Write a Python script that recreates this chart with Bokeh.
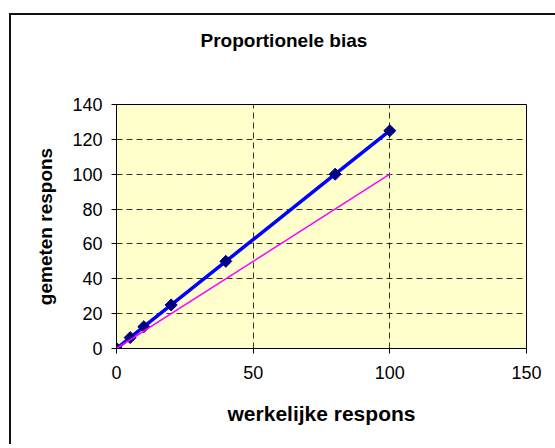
import math
from bokeh.plotting import figure
from bokeh.models import Range1d, FixedTicker, Column, Title
from bokeh.embed import file_html
from bokeh.resources import INLINE

# ---- data ----
actual = [0, 5, 10, 20, 40, 80, 100]          # werkelijke respons
measured = [0, 6.25, 12.5, 25, 50, 100, 125]  # gemeten respons
ideal_x = [0, 100]
ideal_y = [0, 100]
x_ticks = [0, 50, 100, 150]
y_ticks = [0, 20, 40, 60, 80, 100, 120, 140]
title_text = "Proportionele bias"
x_title = "werkelijke respons"
y_title = "gemeten respons"

FONT = "Liberation Sans"

p = figure(
    frame_width=410, frame_height=244,
    min_border_left=105, min_border_top=0,
    min_border_right=29, min_border_bottom=96,
    x_range=Range1d(0, 150), y_range=Range1d(0, 140),
    output_backend="svg", toolbar_location=None,
)

p.background_fill_color = "#FFFFCC"
p.border_fill_color = "white"
p.outline_line_color = "black"
p.outline_line_width = 1

# spacer between title and plot area (same font, so same height as the title)
p.add_layout(Title(text=" ", standoff=15, text_font=FONT, text_font_size="19px",
                   text_font_style="bold"), "above")

# title, offset so that it is centred over the whole chart as in Excel
p.title.text = title_text
p.title.align = "left"
p.title.offset = 84
p.title.vertical_align = "top"
p.title.standoff = 28
p.title.text_font = FONT
p.title.text_font_size = "19px"
p.title.text_font_style = "bold"
p.title.text_color = "black"

p.xaxis.ticker = FixedTicker(ticks=x_ticks)
p.yaxis.ticker = FixedTicker(ticks=y_ticks)
for ax in (p.xaxis, p.yaxis):
    ax.minor_tick_line_color = None
    ax.major_tick_in = 0
    ax.major_tick_out = 5
    ax.axis_line_color = "black"
    ax.major_tick_line_color = "black"
    ax.major_label_text_font = FONT
    ax.major_label_text_font_size = "18px"
    ax.major_label_text_color = "black"
    ax.axis_label_text_font = FONT
    ax.axis_label_text_font_style = "bold"
    ax.axis_label_text_color = "black"
p.xaxis.major_label_standoff = 12
p.yaxis.major_label_standoff = 9
p.xaxis.axis_label = x_title
p.yaxis.axis_label = y_title
p.xaxis.axis_label_text_font_size = "21px"
p.yaxis.axis_label_text_font_size = "19px"
p.xaxis.axis_label_standoff = 20
p.yaxis.axis_label_standoff = 13

p.grid.grid_line_color = "black"
p.grid.grid_line_dash = "6 4"
p.grid.grid_line_alpha = 0.8
p.grid.grid_line_width = 1

p.line(actual, measured, line_color="#0000FF", line_width=3.5)
p.scatter(actual, measured, marker="square", angle=math.pi / 4, size=8.5,
          fill_color="#000080", line_color="#000080")
p.line(ideal_x, ideal_y, line_color="#FF00FF", line_width=1.5)

# chart-area frame: only its top and left edges fall inside the window
layout = Column(children=[p])
layout.margin = (13, 0, 0, 9)
layout.styles = {"border-left": "2px solid #111111", "border-top": "2px solid #111111"}

open("out.html", "w").write(file_html(layout, INLINE))
